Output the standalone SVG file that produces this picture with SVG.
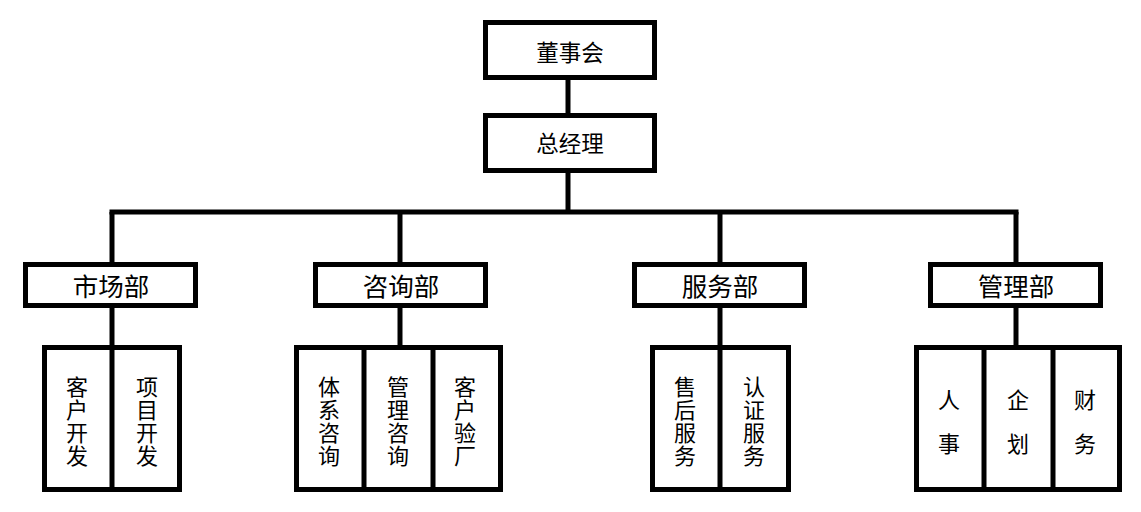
<svg xmlns="http://www.w3.org/2000/svg" width="1141" height="512" viewBox="0 0 1141 512">
<style>
.box{fill:#fff;stroke:#000;stroke-width:5}
.ln{stroke:#000;stroke-width:5;fill:none}
text{font-family:"Noto Sans CJK SC","Noto Sans",sans-serif;fill:#000;text-anchor:middle;dominant-baseline:central}
.t{font-size:22.5px}
.d{font-size:25.5px}
.v{font-size:22px}
</style>
<rect width="1141" height="512" fill="#fff"/>
<g id="connectors">
<line class="ln" x1="568" y1="80" x2="568" y2="113"/>
<line class="ln" x1="568" y1="173" x2="568" y2="212"/>
<line class="ln" x1="109.5" y1="212" x2="1018.5" y2="212"/>
<line class="ln" x1="112" y1="212" x2="112" y2="262"/>
<line class="ln" x1="400" y1="212" x2="400" y2="262"/>
<line class="ln" x1="720" y1="212" x2="720" y2="262"/>
<line class="ln" x1="1016" y1="212" x2="1016" y2="262"/>
<line class="ln" x1="112" y1="308" x2="112" y2="345"/>
<line class="ln" x1="400" y1="308" x2="400" y2="345"/>
<line class="ln" x1="720" y1="308" x2="720" y2="345"/>
<line class="ln" x1="1016" y1="308" x2="1016" y2="345"/>
</g>
<g id="board"><rect class="box" x="485.5" y="22.5" width="169" height="55"/><text class="t" x="570" y="51">董事会</text></g>
<g id="gm"><rect class="box" x="485.5" y="115.5" width="169" height="55"/><text class="t" x="570" y="142">总经理</text></g>
<g id="market"><rect class="box" x="25.5" y="264.5" width="170" height="41"/><text class="d" x="111" y="284">市场部</text></g>
<g id="consult"><rect class="box" x="315.5" y="264.5" width="170" height="41"/><text class="d" x="401" y="284">咨询部</text></g>
<g id="service"><rect class="box" x="634.5" y="264.5" width="170" height="41"/><text class="d" x="720" y="284">服务部</text></g>
<g id="admin"><rect class="box" x="930.5" y="264.5" width="170" height="41"/><text class="d" x="1016" y="284">管理部</text></g>
<g id="market-subs">
<rect class="box" x="44.5" y="347.5" width="135" height="142"/>
<line class="ln" x1="112" y1="347.5" x2="112" y2="489.5"/>
<text class="v" x="77" y="385">客<tspan x="77" dy="23">户</tspan><tspan x="77" dy="23">开</tspan><tspan x="77" dy="23">发</tspan></text>
<text class="v" x="147" y="385">项<tspan x="147" dy="23">目</tspan><tspan x="147" dy="23">开</tspan><tspan x="147" dy="23">发</tspan></text>
</g>
<g id="consult-subs">
<rect class="box" x="296.5" y="347.5" width="204" height="142"/>
<line class="ln" x1="364" y1="347.5" x2="364" y2="489.5"/>
<line class="ln" x1="433" y1="347.5" x2="433" y2="489.5"/>
<text class="v" x="329" y="385">体<tspan x="329" dy="23">系</tspan><tspan x="329" dy="23">咨</tspan><tspan x="329" dy="23">询</tspan></text>
<text class="v" x="398" y="385">管<tspan x="398" dy="23">理</tspan><tspan x="398" dy="23">咨</tspan><tspan x="398" dy="23">询</tspan></text>
<text class="v" x="465" y="385">客<tspan x="465" dy="23">户</tspan><tspan x="465" dy="23">验</tspan><tspan x="465" dy="23">厂</tspan></text>
</g>
<g id="service-subs">
<rect class="box" x="652.5" y="347.5" width="136" height="142"/>
<line class="ln" x1="720" y1="347.5" x2="720" y2="489.5"/>
<text class="v" x="685" y="385">售<tspan x="685" dy="23">后</tspan><tspan x="685" dy="23">服</tspan><tspan x="685" dy="23">务</tspan></text>
<text class="v" x="754" y="385">认<tspan x="754" dy="23">证</tspan><tspan x="754" dy="23">服</tspan><tspan x="754" dy="23">务</tspan></text>
</g>
<g id="admin-subs">
<rect class="box" x="916.5" y="347.5" width="203" height="142"/>
<line class="ln" x1="984" y1="347.5" x2="984" y2="489.5"/>
<line class="ln" x1="1053" y1="347.5" x2="1053" y2="489.5"/>
<text class="v" x="949" y="398">人<tspan x="949" dy="44">事</tspan></text>
<text class="v" x="1018" y="398">企<tspan x="1018" dy="44">划</tspan></text>
<text class="v" x="1085" y="398">财<tspan x="1085" dy="44">务</tspan></text>
</g>
</svg>
